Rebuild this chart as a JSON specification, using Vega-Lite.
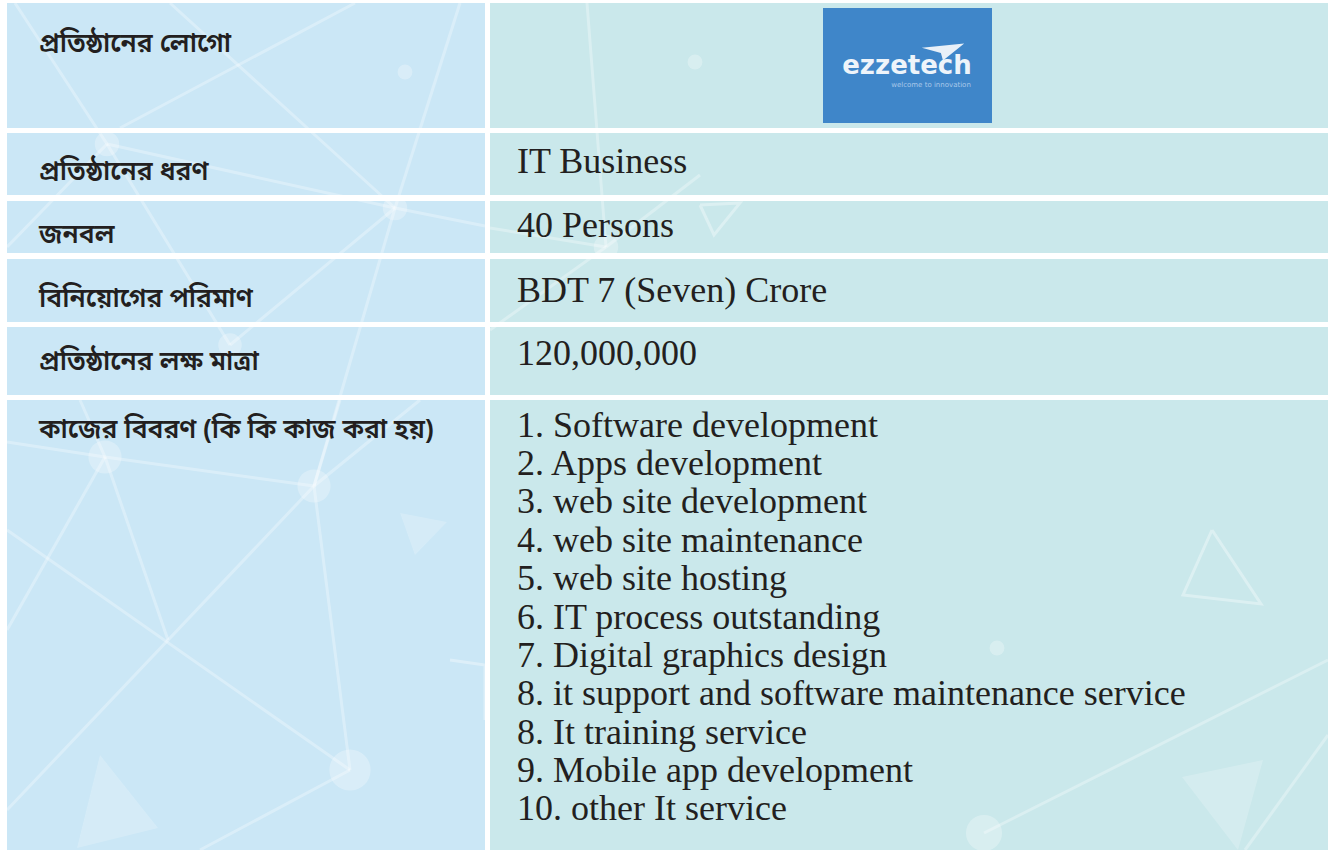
{
  "$schema": "https://vega.github.io/schema/vega-lite/v6.json",
  "usermeta": {"embedOptions": {"actions": false}},
  "width": 1336,
  "height": 854,
  "padding": 0,
  "autosize": {"type": "none"},
  "background": "#ffffff",
  "config": {"view": {"stroke": null}},
  "datasets": {
    "cells": [
      {"row": 1, "side": "left", "x": 7, "x2": 485, "y": 3, "y2": 128},
      {"row": 1, "side": "right", "x": 490, "x2": 1328, "y": 3, "y2": 128},
      {"row": 2, "side": "left", "x": 7, "x2": 485, "y": 133, "y2": 195},
      {"row": 2, "side": "right", "x": 490, "x2": 1328, "y": 133, "y2": 195},
      {"row": 3, "side": "left", "x": 7, "x2": 485, "y": 201, "y2": 253},
      {"row": 3, "side": "right", "x": 490, "x2": 1328, "y": 201, "y2": 253},
      {"row": 4, "side": "left", "x": 7, "x2": 485, "y": 259, "y2": 322},
      {"row": 4, "side": "right", "x": 490, "x2": 1328, "y": 259, "y2": 322},
      {"row": 5, "side": "left", "x": 7, "x2": 485, "y": 327, "y2": 395},
      {"row": 5, "side": "right", "x": 490, "x2": 1328, "y": 327, "y2": 395},
      {"row": 6, "side": "left", "x": 7, "x2": 485, "y": 400, "y2": 850},
      {"row": 6, "side": "right", "x": 490, "x2": 1328, "y": 400, "y2": 850}
    ],
    "decoLines": [
      {"x": 15, "y": 3, "x2": 107, "y2": 144},
      {"x": 107, "y": 144, "x2": 395, "y2": 208},
      {"x": 395, "y": 208, "x2": 485, "y2": 226},
      {"x": 170, "y": 3, "x2": 395, "y2": 208},
      {"x": 460, "y": 3, "x2": 395, "y2": 208},
      {"x": 120, "y": 128, "x2": 355, "y2": 3},
      {"x": 107, "y": 144, "x2": 230, "y2": 345},
      {"x": 7, "y": 247, "x2": 107, "y2": 144},
      {"x": 395, "y": 208, "x2": 314, "y2": 486},
      {"x": 230, "y": 345, "x2": 395, "y2": 208},
      {"x": 7, "y": 442, "x2": 105, "y2": 457},
      {"x": 105, "y": 457, "x2": 314, "y2": 486},
      {"x": 105, "y": 457, "x2": 7, "y2": 630},
      {"x": 105, "y": 457, "x2": 168, "y2": 640},
      {"x": 314, "y": 486, "x2": 7, "y2": 810},
      {"x": 7, "y": 530, "x2": 350, "y2": 770},
      {"x": 314, "y": 486, "x2": 350, "y2": 770},
      {"x": 350, "y": 770, "x2": 200, "y2": 850},
      {"x": 314, "y": 486, "x2": 420, "y2": 400},
      {"x": 105, "y": 457, "x2": 80, "y2": 400},
      {"x": 314, "y": 486, "x2": 340, "y2": 400},
      {"x": 587, "y": 3, "x2": 606, "y2": 247},
      {"x": 606, "y": 247, "x2": 490, "y2": 228},
      {"x": 606, "y": 247, "x2": 490, "y2": 330},
      {"x": 606, "y": 247, "x2": 700, "y2": 175},
      {"x": 984, "y": 833, "x2": 1328, "y2": 660},
      {"x": 1245, "y": 850, "x2": 1328, "y2": 735}
    ],
    "decoDots": [
      {"x": 107, "y": 144, "s": 600},
      {"x": 395, "y": 208, "s": 600},
      {"x": 405, "y": 72, "s": 220},
      {"x": 230, "y": 345, "s": 550},
      {"x": 105, "y": 457, "s": 1100},
      {"x": 314, "y": 486, "s": 1100},
      {"x": 350, "y": 770, "s": 1700},
      {"x": 695, "y": 62, "s": 220},
      {"x": 606, "y": 247, "s": 600},
      {"x": 997, "y": 648, "s": 220},
      {"x": 984, "y": 833, "s": 1300}
    ],
    "decoTris": [
      {"tri": "a", "x": 420, "y": 532, "s": 3136},
      {"tri": "b", "x": 112, "y": 800, "s": 10000},
      {"tri": "c", "x": 1222, "y": 805, "s": 10000}
    ],
    "decoOutlines": [
      {"tri": "e", "ord": 1, "x": 700, "y": 205},
      {"tri": "e", "ord": 2, "x": 740, "y": 203},
      {"tri": "e", "ord": 3, "x": 714, "y": 235},
      {"tri": "e", "ord": 4, "x": 700, "y": 205},
      {"tri": "f", "ord": 1, "x": 1212, "y": 530},
      {"tri": "f", "ord": 2, "x": 1261, "y": 604},
      {"tri": "f", "ord": 3, "x": 1183, "y": 595},
      {"tri": "f", "ord": 4, "x": 1212, "y": 530},
      {"tri": "g", "ord": 1, "x": 450, "y": 660},
      {"tri": "g", "ord": 2, "x": 485, "y": 665},
      {"tri": "g", "ord": 3, "x": 485, "y": 720}
    ],
    "labels": [
      {"text": "প্রতিষ্ঠানের লোগো", "x": 39, "y": 52},
      {"text": "প্রতিষ্ঠানের ধরণ", "x": 39, "y": 180},
      {"text": "জনবল", "x": 39, "y": 243},
      {"text": "বিনিয়োগের পরিমাণ", "x": 39, "y": 307},
      {"text": "প্রতিষ্ঠানের লক্ষ মাত্রা", "x": 39, "y": 370},
      {"text": "কাজের বিবরণ (কি কি কাজ করা হয়)", "x": 39, "y": 438}
    ],
    "values": [
      {"text": "IT Business", "x": 517, "y": 173},
      {"text": "40 Persons", "x": 517, "y": 237},
      {"text": "BDT 7 (Seven) Crore", "x": 517, "y": 302},
      {"text": "120,000,000", "x": 517, "y": 365},
      {"text": "1. Software development", "x": 517, "y": 437},
      {"text": "2. Apps development", "x": 517, "y": 475},
      {"text": "3. web site development", "x": 517, "y": 513},
      {"text": "4. web site maintenance", "x": 517, "y": 552},
      {"text": "5. web site hosting", "x": 517, "y": 590},
      {"text": "6. IT process outstanding", "x": 517, "y": 629},
      {"text": "7. Digital graphics design", "x": 517, "y": 667},
      {"text": "8. it support and software maintenance service", "x": 517, "y": 705},
      {"text": "8. It training service", "x": 517, "y": 744},
      {"text": "9. Mobile app development", "x": 517, "y": 782},
      {"text": "10. other It service", "x": 517, "y": 820}
    ]
  },
  "encoding": {},
  "layer": [
    {
      "data": {"name": "cells"},
      "mark": {"type": "rect"},
      "encoding": {
        "x": {"field": "x", "type": "quantitative", "scale": {"domain": [0, 1336], "nice": false, "zero": false}, "axis": null},
        "x2": {"field": "x2"},
        "y": {"field": "y", "type": "quantitative", "scale": {"domain": [0, 854], "nice": false, "zero": false, "reverse": true}, "axis": null},
        "y2": {"field": "y2"},
        "color": {"field": "side", "type": "nominal", "scale": {"domain": ["left", "right"], "range": ["#cbe7f6", "#cae8eb"]}, "legend": null}
      }
    },
    {
      "data": {"name": "decoTris"},
      "mark": {"type": "point", "filled": true, "color": "#ffffff", "opacity": 0.2},
      "encoding": {
        "x": {"field": "x", "type": "quantitative"},
        "y": {"field": "y", "type": "quantitative"},
        "size": {"field": "s", "type": "quantitative", "scale": null},
        "shape": {"field": "tri", "type": "nominal", "legend": null, "scale": {"domain": ["a", "b", "c"], "range": ["M -0.71 -0.68 L 0.96 -0.36 L -0.18 0.82 Z", "M -0.24 -0.9 L 0.92 0.56 L -0.7 0.96 Z", "M -0.8 -0.56 L 0.82 -0.9 L 0.32 0.9 Z"]}}
      }
    },
    {
      "data": {"name": "decoOutlines"},
      "mark": {"type": "line", "color": "#ffffff", "opacity": 0.35, "strokeWidth": 3},
      "encoding": {
        "x": {"field": "x", "type": "quantitative"},
        "y": {"field": "y", "type": "quantitative"},
        "detail": {"field": "tri"},
        "order": {"field": "ord"}
      }
    },
    {
      "data": {"name": "decoLines"},
      "mark": {"type": "rule", "color": "#ffffff", "opacity": 0.3, "strokeWidth": 3},
      "encoding": {
        "x": {"field": "x", "type": "quantitative"},
        "y": {"field": "y", "type": "quantitative"},
        "x2": {"field": "x2"},
        "y2": {"field": "y2"}
      }
    },
    {
      "data": {"name": "decoDots"},
      "mark": {"type": "circle", "color": "#ffffff", "opacity": 0.28},
      "encoding": {
        "x": {"field": "x", "type": "quantitative"},
        "y": {"field": "y", "type": "quantitative"},
        "size": {"field": "s", "type": "quantitative", "scale": null}
      }
    },
    {
      "data": {"values": [{"x": 823, "x2": 992, "y": 8, "y2": 123}]},
      "mark": {"type": "rect", "color": "#3f86c9"},
      "encoding": {
        "x": {"field": "x", "type": "quantitative"},
        "x2": {"field": "x2"},
        "y": {"field": "y", "type": "quantitative"},
        "y2": {"field": "y2"}
      }
    },
    {
      "data": {"values": [{"label": "ezzetech", "x": 907, "y": 74}]},
      "mark": {"type": "text", "font": "DejaVu Sans", "fontWeight": "bold", "fontSize": 26, "color": "#eef4fa", "align": "center", "baseline": "alphabetic"},
      "encoding": {
        "x": {"field": "x", "type": "quantitative"},
        "y": {"field": "y", "type": "quantitative"},
        "text": {"field": "label"}
      }
    },
    {
      "data": {"values": [{"label": "welcome to innovation", "x": 931, "y": 87}]},
      "mark": {"type": "text", "font": "DejaVu Sans", "fontSize": 7, "color": "#a9c8ea", "align": "center", "baseline": "alphabetic"},
      "encoding": {
        "x": {"field": "x", "type": "quantitative"},
        "y": {"field": "y", "type": "quantitative"},
        "text": {"field": "label"}
      }
    },
    {
      "data": {"values": [{"x": 943, "y": 52}]},
      "mark": {"type": "point", "filled": true, "opacity": 1, "color": "#e8f0f8", "shape": "M -1 -0.2 L 1 -0.4 L 0 0.4 L -0.1 0.05 Z", "size": 1800},
      "encoding": {
        "x": {"field": "x", "type": "quantitative"},
        "y": {"field": "y", "type": "quantitative"}
      }
    },
    {
      "data": {"name": "labels"},
      "mark": {"type": "text", "font": "Noto Sans Bengali, Noto Serif Bengali, Lohit Bengali, FreeSerif, Noto Sans, sans-serif", "fontSize": 26.5, "fontWeight": 600, "color": "#231f20", "align": "left", "baseline": "alphabetic"},
      "encoding": {
        "x": {"field": "x", "type": "quantitative"},
        "y": {"field": "y", "type": "quantitative"},
        "text": {"field": "text"}
      }
    },
    {
      "data": {"name": "values"},
      "mark": {"type": "text", "font": "Liberation Serif", "fontSize": 36, "color": "#231f20", "align": "left", "baseline": "alphabetic"},
      "encoding": {
        "x": {"field": "x", "type": "quantitative"},
        "y": {"field": "y", "type": "quantitative"},
        "text": {"field": "text"}
      }
    }
  ]
}
